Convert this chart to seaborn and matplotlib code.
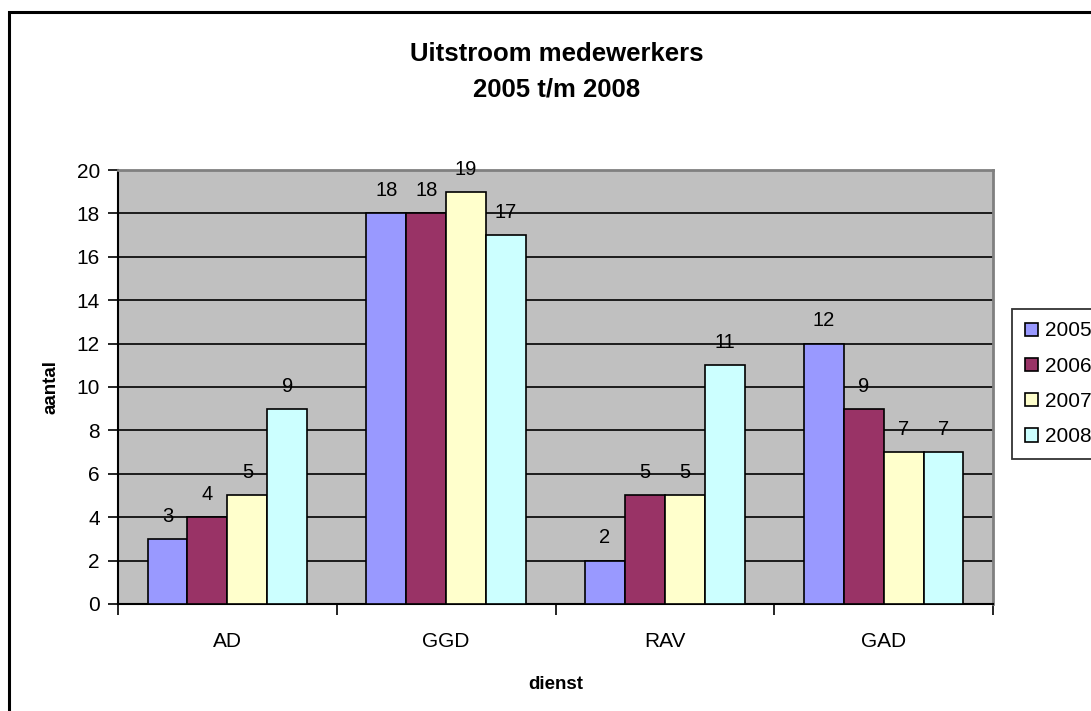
import matplotlib

matplotlib.use("Agg")
import matplotlib.pyplot as plt
from matplotlib.patches import Rectangle
import pandas as pd
import seaborn as sns

# data
diensten = ["AD", "GGD", "RAV", "GAD"]
jaren = ["2005", "2006", "2007", "2008"]
uitstroom_2005 = [3, 18, 2, 12]
uitstroom_2006 = [4, 18, 5, 9]
uitstroom_2007 = [5, 19, 5, 7]
uitstroom_2008 = [9, 17, 11, 7]
kleuren = ["#9999FF", "#993366", "#FFFFCC", "#CCFFFF"]

series = [uitstroom_2005, uitstroom_2006, uitstroom_2007, uitstroom_2008]
df = pd.DataFrame(
    [
        {"dienst": d, "jaar": j, "aantal": v}
        for j, vals in zip(jaren, series)
        for d, v in zip(diensten, vals)
    ]
)

sns.set_style("white")
plt.rcParams["font.family"] = ["Liberation Sans", "DejaVu Sans"]
plt.rcParams["text.color"] = "black"
plt.rcParams["axes.labelcolor"] = "black"
plt.rcParams["xtick.color"] = "black"
plt.rcParams["ytick.color"] = "black"

fig = plt.figure(figsize=(10.91, 7.11), dpi=100)
ax = fig.add_axes([0.1082, 0.1505, 0.802, 0.6104])

sns.barplot(
    data=df,
    x="dienst",
    y="aantal",
    hue="jaar",
    order=diensten,
    hue_order=jaren,
    palette=kleuren,
    width=0.73,
    gap=0,
    edgecolor="black",
    linewidth=1.2,
    saturation=1,
    errorbar=None,
    ax=ax,
    zorder=3,
)

for cont in ax.containers:
    ax.bar_label(cont, padding=9.5, fontsize=14.5, color="black", clip_on=False)

# plot area look
ax.set_facecolor("#C0C0C0")
ax.set_ylim(0, 20)
ax.set_xlim(-0.5, 3.5)
ax.set_yticks(range(0, 21, 2))
ax.yaxis.grid(True, color="black", linewidth=1.2, zorder=0)
ax.set_axisbelow(True)
ax.tick_params(axis="y", direction="out", length=7, width=1.2, labelsize=15, pad=6, left=True)
ax.tick_params(axis="x", which="major", length=0, labelsize=15, pad=20)
ax.set_xticks([-0.5, 0.5, 1.5, 2.5, 3.5], minor=True)
ax.tick_params(axis="x", which="minor", direction="out", length=8, width=1.2, bottom=True)
for side in ["top", "right"]:
    ax.spines[side].set_color("#808080")
    ax.spines[side].set_linewidth(2)
for side in ["left", "bottom"]:
    ax.spines[side].set_color("black")
    ax.spines[side].set_linewidth(1.5)

ax.set_xlabel("dienst", fontsize=13.5, fontweight="bold", labelpad=18)
ax.set_ylabel("aantal", fontsize=13.5, fontweight="bold", labelpad=12)

fig.text(0.5105, 0.8995, "Uitstroom medewerkers\n2005 t/m 2008", ha="center", va="center",
         fontsize=18.5, fontweight="bold", linespacing=1.6)

handles, labels = ax.get_legend_handles_labels()
leg = ax.legend(
    handles,
    labels,
    loc="upper left",
    bbox_to_anchor=(1012 / 1091, 1 - 309 / 711),
    bbox_transform=fig.transFigure,
    frameon=True,
    fancybox=False,
    edgecolor="black",
    fontsize=15,
    handlelength=0.65,
    handleheight=0.6,
    handletextpad=0.35,
    labelspacing=0.78,
    borderpad=0.6,
    borderaxespad=0,
    title=None,
)
leg.get_frame().set_linewidth(1.3)

# outer chart border
fig.patches.append(
    Rectangle((9 / 1091, -0.05), 1.1, 1 - 12 / 711 + 0.05, transform=fig.transFigure,
              fill=False, edgecolor="black", linewidth=2.2, zorder=10)
)

fig.savefig("out.png", dpi=100)
